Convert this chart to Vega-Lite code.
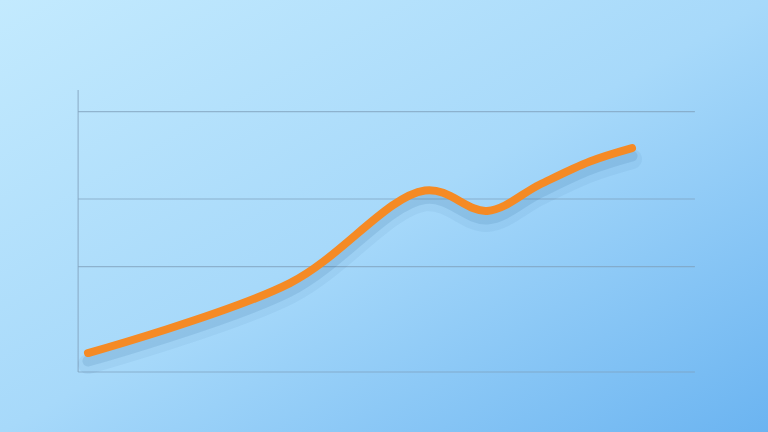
{
  "$schema": "https://vega.github.io/schema/vega-lite/v6.json",
  "width": 768,
  "height": 432,
  "padding": 0,
  "autosize": {"type": "fit", "contains": "padding"},
  "config": {
    "view": {
      "stroke": null,
      "fill": {
        "gradient": "linear",
        "x1": 0, "y1": 0, "x2": 1, "y2": 1,
        "stops": [
          {"offset": 0, "color": "#c3eafe"},
          {"offset": 0.5, "color": "#a7d9fa"},
          {"offset": 1, "color": "#6bb4f1"}
        ]
      }
    }
  },
  "datasets": {
    "series": [
      {"t": 0, "v": 5.1},
      {"t": 5.94, "v": 23.9},
      {"t": 9.91, "v": 48.8},
      {"t": 11.74, "v": 43.3},
      {"t": 13.29, "v": 50.4},
      {"t": 14.76, "v": 56.6},
      {"t": 16, "v": 60.2}
    ],
    "grid": [
      {"level": 0},
      {"level": 28.3},
      {"level": 46.5},
      {"level": 70}
    ]
  },
  "layer": [
    {
      "data": {"name": "grid"},
      "mark": {"type": "rule", "stroke": "#7f9fbb", "strokeWidth": 1.2, "opacity": 0.7},
      "encoding": {
        "y": {"field": "level", "type": "quantitative", "axis": null,
              "scale": {"domain": [-16.13, 100], "nice": false, "zero": false}},
        "x": {"datum": -0.29, "type": "quantitative", "axis": null,
              "scale": {"domain": [-2.588, 20], "nice": false, "zero": false}},
        "x2": {"datum": 17.85}
      }
    },
    {
      "data": {"values": [{"level": 0, "top": 75.8}]},
      "mark": {"type": "rule", "stroke": "#7f9fbb", "strokeWidth": 1.2, "opacity": 0.7},
      "encoding": {
        "x": {"datum": -0.29, "type": "quantitative"},
        "y": {"field": "level", "type": "quantitative"},
        "y2": {"field": "top"}
      }
    },
    {
      "data": {"name": "series"},
      "mark": {"type": "line", "interpolate": "catmull-rom", "stroke": "#1f5a8c",
               "strokeWidth": 20, "opacity": 0.06, "yOffset": 11, "strokeCap": "round"},
      "encoding": {
        "x": {"field": "t", "type": "quantitative"},
        "y": {"field": "v", "type": "quantitative"}
      }
    },
    {
      "data": {"name": "series"},
      "mark": {"type": "line", "interpolate": "catmull-rom", "stroke": "#1f5a8c",
               "strokeWidth": 11, "opacity": 0.12, "yOffset": 8, "strokeCap": "round"},
      "encoding": {
        "x": {"field": "t", "type": "quantitative"},
        "y": {"field": "v", "type": "quantitative"}
      }
    },
    {
      "data": {"name": "series"},
      "mark": {"type": "line", "interpolate": "catmull-rom", "stroke": "#f58a25",
               "strokeWidth": 8, "strokeCap": "round", "strokeJoin": "round"},
      "encoding": {
        "x": {"field": "t", "type": "quantitative"},
        "y": {"field": "v", "type": "quantitative"}
      }
    }
  ]
}
